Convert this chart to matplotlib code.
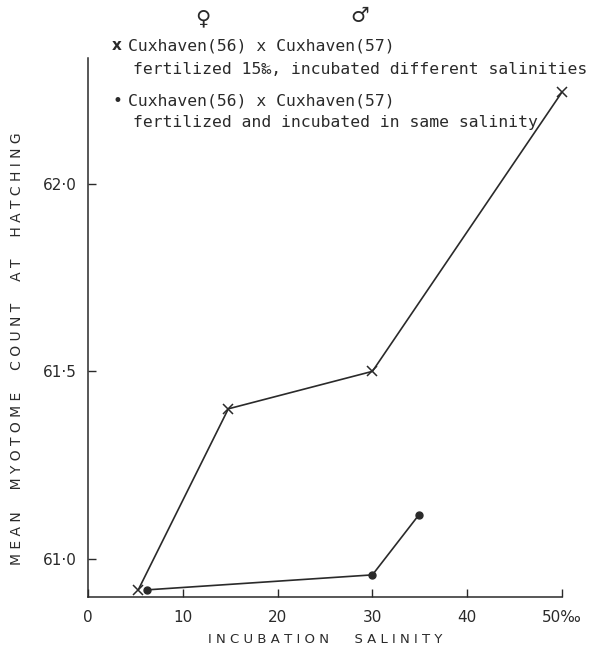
import matplotlib
matplotlib.use("Agg")
import matplotlib.pyplot as plt

# salinity (per mille) vs mean myotome count
cross_x = [5.3, 14.8, 30.0, 50.0]
cross_y = [60.917, 61.40, 61.50, 62.245]
dot_x = [6.2, 30.0, 34.9]
dot_y = [60.917, 60.957, 61.117]

xticks = [0, 10, 20, 30, 40, 50]
xticklabels = ["0", "10", "20", "30", "40", "50‰"]
yticks = [61.0, 61.5, 62.0]
yticklabels = ["61·0", "61·5", "62·0"]

W, H = 607, 650
ink = "#2a2a2a"
plt.rcParams["font.family"] = "DejaVu Sans"

fig = plt.figure(figsize=(W / 100, H / 100), dpi=100)
ax = fig.add_axes([88 / W, 1 - 597 / H, (562 - 88) / W, (597 - 58) / H])

ax.plot(cross_x, cross_y, color=ink, lw=1.2, marker="x", ms=7, mew=1.1, clip_on=False)
ax.plot(dot_x, dot_y, color=ink, lw=1.2, marker="o", ms=5, clip_on=False)

ax.set_xlim(0, 50)
ax.set_ylim(60.898, 62.336)
for s in ["top", "right"]:
    ax.spines[s].set_visible(False)
for s in ["left", "bottom"]:
    ax.spines[s].set_color(ink)
    ax.spines[s].set_linewidth(1.1)

ax.set_xticks(xticks)
ax.set_xticklabels(xticklabels)
ax.set_yticks(yticks)
ax.set_yticklabels(yticklabels)
ax.tick_params(direction="in", length=6, width=1, colors=ink, labelsize=11, pad=9)
ax.tick_params(axis="y", pad=8)

ax.set_xlabel("I N C U B A T I O N      S A L I N I T Y", fontsize=9.5, color=ink, labelpad=6)
ax.set_ylabel("M E A N     M Y O T O M E     C O U N T     A T     H A T C H I N G",
              fontsize=10, color=ink)
ax.yaxis.set_label_coords(-0.135, 0.46)


def ftext(x, y, s, **kw):
    fig.text(x / W, 1 - y / H, s, color=ink, va="center", **kw)


mono = "DejaVu Sans Mono"
ftext(203, 18, "♀", fontsize=15, ha="center")
ftext(360, 16, "♂", fontsize=15, ha="center")
ftext(117, 46, "x", fontsize=11, ha="center", fontweight="bold")
ftext(128, 46, "Cuxhaven(56) x Cuxhaven(57)", fontsize=11.8, ha="left", family=mono)
ftext(133, 69, "fertilized 15‰, incubated different salinities", fontsize=11.8,
      ha="left", family=mono)
ftext(117, 101, "•", fontsize=12, ha="center")
ftext(128, 101, "Cuxhaven(56) x Cuxhaven(57)", fontsize=11.8, ha="left", family=mono)
ftext(133, 123, "fertilized and incubated in same salinity", fontsize=11.8,
      ha="left", family=mono)

fig.savefig("out.png", dpi=100)
